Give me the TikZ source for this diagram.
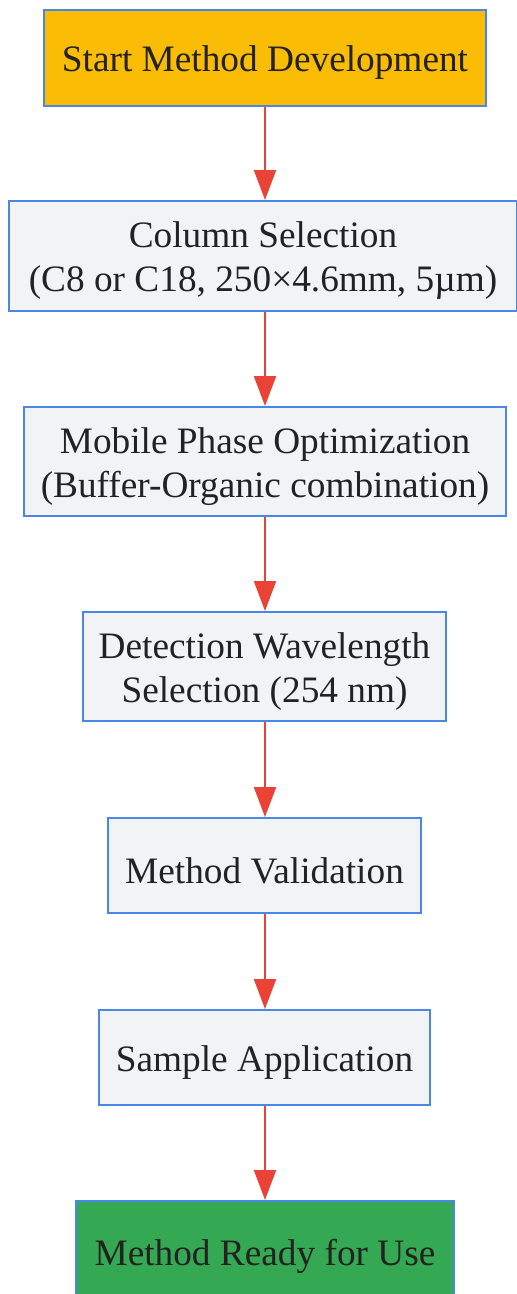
\documentclass[tikz,border=0pt]{standalone}
\usepackage{fontspec}
\setmainfont{Liberation Serif}
\usetikzlibrary{arrows.meta}
\definecolor{bordblue}{HTML}{4A86E8}
\definecolor{startfill}{HTML}{FBBC05}
\definecolor{greyfill}{HTML}{F1F3F4}
\definecolor{endfill}{HTML}{34A853}
\definecolor{arrred}{HTML}{EA4335}
\definecolor{txt}{HTML}{222222}
\tikzset{
  box/.style={draw=bordblue, line width=2pt, fill=greyfill, inner sep=0pt},
  lbl/.style={inner sep=0pt, align=center, text=txt, font=\fontsize{37.3}{44}\selectfont, yshift=-5pt},
  conn/.style={draw=arrred, line width=2.2pt, -{Triangle[width=22pt,length=30pt]}}
}
\begin{document}
\begin{tikzpicture}[x=1pt,y=-1pt]
\useasboundingbox (0,0) rectangle (517,1294);
\node[box, fill=startfill, minimum width=442pt, minimum height=96pt] (b1) at (265,58) {};
\node[box, minimum width=508pt, minimum height=110pt] (b2) at (263,256) {};
\node[box, minimum width=482pt, minimum height=109pt] (b3) at (265,461.5) {};
\node[box, minimum width=363pt, minimum height=109pt] (b4) at (264.5,666.5) {};
\node[box, minimum width=313pt, minimum height=95pt] (b5) at (264.5,865.5) {};
\node[box, minimum width=331pt, minimum height=95pt] (b6) at (264.5,1057.5) {};
\node[box, fill=endfill, minimum width=378pt, minimum height=100pt] (b7) at (265,1251) {};
\node[lbl] (t1) at (b1.center) {Start Method Development};
\node[lbl] (t2) at (b2.center) {Column Selection\\(C8 or C18, 250×4.6mm, 5µm)};
\node[lbl] (t3) at (b3.center) {Mobile Phase Optimization\\(Buffer-Organic combination)};
\node[lbl] (t4) at (b4.center) {Detection Wavelength\\Selection (254 nm)};
\node[lbl] (t5) at (b5.center) {Method Validation};
\node[lbl] (t6) at (b6.center) {Sample Application};
\node[lbl] (t7) at (b7.center) {Method Ready for Use};
\draw[conn] (b1.south -| 265,0) -- (b2.north -| 265,0);
\draw[conn] (b2.south -| 265,0) -- (b3.north -| 265,0);
\draw[conn] (b3.south -| 265,0) -- (b4.north -| 265,0);
\draw[conn] (b4.south -| 265,0) -- (b5.north -| 265,0);
\draw[conn] (b5.south -| 265,0) -- (b6.north -| 265,0);
\draw[conn] (b6.south -| 265,0) -- (b7.north -| 265,0);
\end{tikzpicture}
\end{document}
